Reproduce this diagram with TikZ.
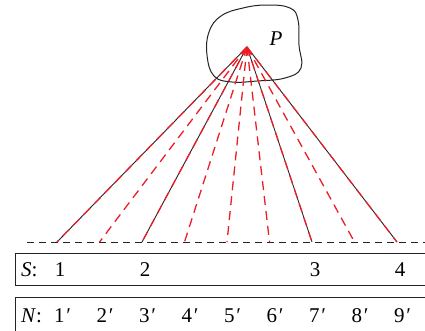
\documentclass[tikz,border=0pt]{standalone}
\usepackage{fontspec}
\setmainfont{Liberation Serif}
\usetikzlibrary{positioning}
\definecolor{rayred}{RGB}{235,30,40}
\definecolor{inkgray}{RGB}{35,35,35}

\begin{document}
\begin{tikzpicture}[x=1pt,y=-1pt,
  font=\fontsize{21}{24}\selectfont,
  ray/.style={inkgray, line width=0.9pt},
  dashray/.style={rayred, line width=1.3pt, dash pattern=on 9pt off 6pt},
  label/.style={inner sep=0pt, anchor=base}]
  \useasboundingbox (0,0) rectangle (425,330);
  % Blob with the point P
  \draw[inkgray, line width=1pt] plot[smooth cycle, tension=0.7] coordinates
    {(243,8) (267,5) (290,8) (298,20) (299,45) (301,68) (285,78) (257,81)
     (232,82) (214,76) (207,55) (209,32) (221,16)};
  \coordinate (P) at (247,47);
  \node[label] (ptext) at (276,45) {\textit{P}};
  % Ground line
  \draw[inkgray, line width=0.8pt, dash pattern=on 7pt off 5pt] (27,242) -- (425,242);
  \foreach \i in {1,...,9} {
    \coordinate (g\i) at ({57+42.5*(\i-1)},242);
  }
  % Solid rays to the stations
  \foreach \i in {1,3,7,9} {
    \draw[ray] (P) -- (g\i);
  }
  % Dashed rays to all points
  \foreach \i in {1,...,9} {
    \draw[dashray] (P) -- (g\i);
  }
  % Boxes
  \draw[inkgray, line width=1pt] (15,253) rectangle (432,285);
  \draw[inkgray, line width=1pt] (15,297) rectangle (432,333);
  \node[label, anchor=base west] (slabel) at (21,276) {\textit{S}:};
  \foreach \i/\s in {1/1,3/2,7/3,9/4} {
    \node[label] (s\s) at ([xshift=3pt]g\i |- slabel.base) {\s};
  }
  \node[label, anchor=base west] (nlabel) at (21,322) {\textit{N}:};
  \foreach \i in {1,...,9} {
    \node[label] (n\i) at ([xshift=5pt]g\i |- nlabel.base) {\i\kern0.5pt\textit{′}};
  }
\end{tikzpicture}
\end{document}
